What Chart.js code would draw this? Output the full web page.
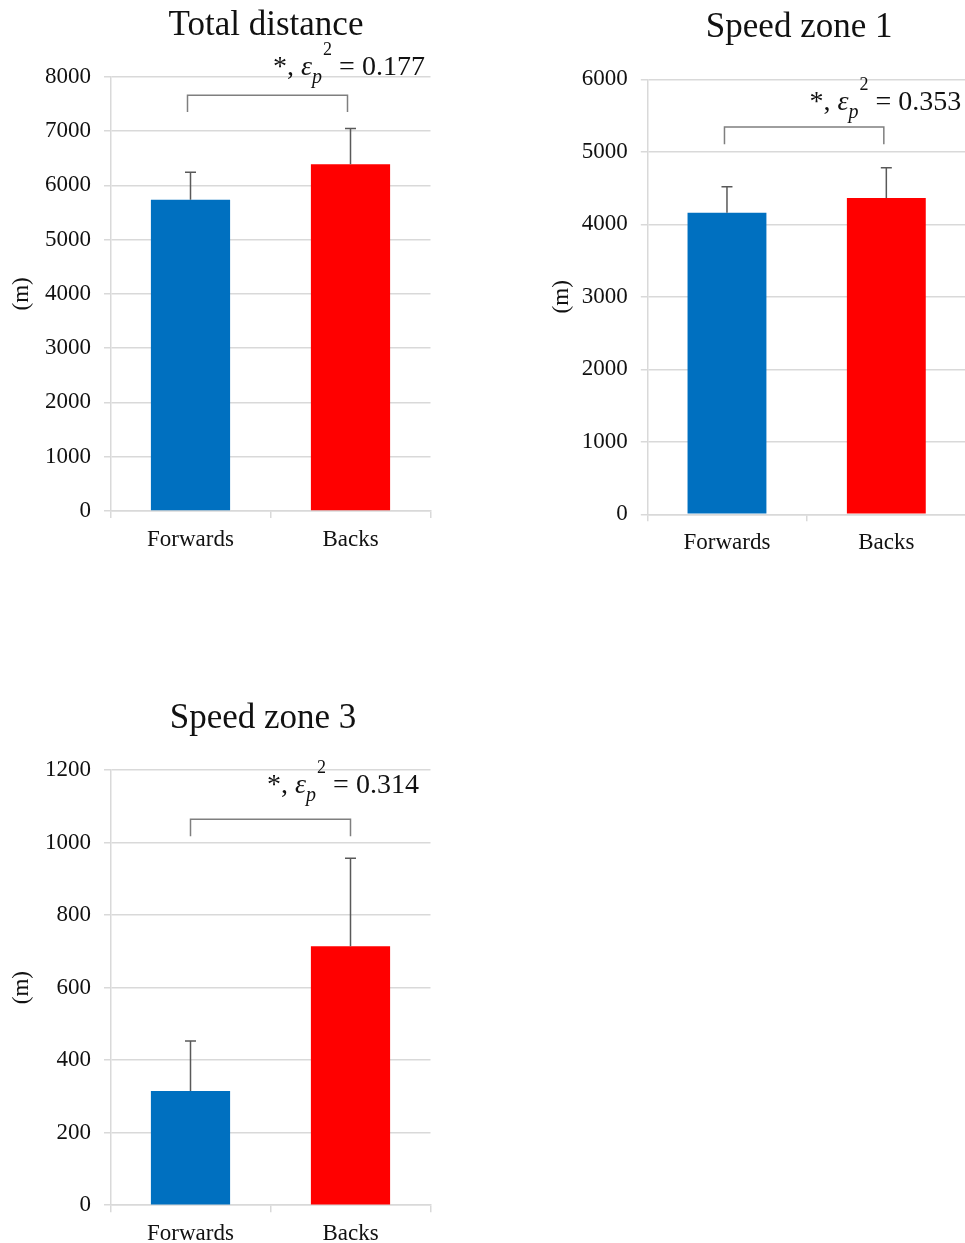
<!DOCTYPE html>
<html>
<head>
<meta charset="utf-8">
<script src="https://cdn.jsdelivr.net/npm/chart.js@4.4.1/dist/chart.umd.min.js"></script>
<style>
  html, body { margin: 0; padding: 0; background: #fff; overflow: hidden; }
  canvas { position: absolute; }
</style>
</head>
<body>
<canvas id="total" width="440" height="560" style="left:0px;top:0px"></canvas>
<canvas id="zone1" width="426" height="560" style="left:540px;top:0px"></canvas>
<canvas id="zone3" width="440" height="553" style="left:0px;top:690px"></canvas>
<script>
const categories = ["Forwards", "Backs"];
const barColors = ["#0070C0", "#FF0000"];

const totalMean = [5733, 6387];
const totalSd = [506, 657];
const totalBracket = [7657, 7350];

const zone1Mean = [4160, 4363];
const zone1Sd = [359, 418];
const zone1Bracket = [5343, 5105];

const zone3Mean = [315, 714];
const zone3Sd = [138, 243];
const zone3Bracket = [1064, 1017];

const effectSizes = ["0.177", "0.353", "0.314"];

const serif = "'Liberation Serif', 'Times New Roman', serif";
Chart.defaults.font.family = serif;

function drawStat(ctx, cx, base, value) {
    const big = "28px " + serif;
    const ital = "italic 28px " + serif;
    const sub = "italic 20px " + serif;
    const sup = "18px " + serif;
    const parts = [
        { t: "*, ", f: big, dy: 0 },
        { t: "\u03b5", f: ital, dy: 0 },
        { t: "p", f: sub, dy: 8 },
        { t: "2", f: sup, dy: -20, gap: 1 },
        { t: " = " + value, f: big, dy: 0 },
    ];
    let total = 0;
    parts.forEach((p) => {
        ctx.font = p.f;
        p.w = ctx.measureText(p.t).width + (p.gap || 0);
        total += p.w;
    });
    let x = cx - total / 2;
    ctx.fillStyle = "#111";
    ctx.textAlign = "left";
    ctx.textBaseline = "alphabetic";
    parts.forEach((p) => {
        ctx.font = p.f;
        ctx.fillText(p.t, x + (p.gap || 0), base + p.dy);
        x += p.w;
    });
}

const extras = {
    id: "extras",
    afterDatasetsDraw(chart, args, o) {
        const ctx = chart.ctx;
        const y = chart.scales.y;
        const bars = chart.getDatasetMeta(0).data;
        const area = chart.chartArea;
        ctx.save();

        // error bars (upper only)
        ctx.strokeStyle = "#595959";
        ctx.lineWidth = 1.5;
        bars.forEach((bar, i) => {
            const top = y.getPixelForValue(o.mean[i] + o.sd[i]);
            ctx.beginPath();
            ctx.moveTo(bar.x, y.getPixelForValue(o.mean[i]));
            ctx.lineTo(bar.x, top);
            ctx.moveTo(bar.x - 5.5, top);
            ctx.lineTo(bar.x + 5.5, top);
            ctx.stroke();
        });

        // significance bracket
        const yb = y.getPixelForValue(o.bracket[0]);
        const yl = y.getPixelForValue(o.bracket[1]);
        const x0 = bars[0].x + o.bracketDx;
        const x1 = bars[1].x + o.bracketDx;
        ctx.strokeStyle = "#7f7f7f";
        ctx.beginPath();
        ctx.moveTo(x0, yl);
        ctx.lineTo(x0, yb);
        ctx.lineTo(x1, yb);
        ctx.lineTo(x1, yl);
        ctx.stroke();

        drawStat(ctx, bars[1].x + o.textDx, yb - o.textGap, o.effect);

        // title
        ctx.fillStyle = "#111";
        ctx.font = "35px " + serif;
        ctx.textAlign = "center";
        ctx.textBaseline = "alphabetic";
        ctx.fillText(o.title, (area.left + area.right) / 2 + o.titleDx, area.top - 42);
        ctx.restore();
    },
};

function makeChart(id, o) {
    return new Chart(document.getElementById(id), {
        type: "bar",
        data: {
            labels: categories,
            datasets: [
                {
                    data: o.mean,
                    backgroundColor: barColors,
                    barPercentage: 0.495,
                    categoryPercentage: 1,
                },
            ],
        },
        options: {
            responsive: false,
            animation: false,
            layout: { padding: { top: o.top, right: o.right, left: 0, bottom: 0 } },
            plugins: {
                legend: { display: false },
                tooltip: { enabled: false },
                extras: o,
            },
            scales: {
                x: {
                    grid: {
                        drawOnChartArea: false,
                        color: "#d9d9d9",
                        lineWidth: 1.5,
                        tickLength: 7,
                        offset: true,
                    },
                    border: { color: "#d9d9d9", width: 1.5 },
                    ticks: { color: "#111", font: { size: 23 }, padding: 8 },
                    afterFit: (s) => {
                        s.height = o.xh;
                    },
                },
                y: {
                    min: 0,
                    max: o.max,
                    ticks: {
                        stepSize: o.step,
                        color: "#111",
                        font: { size: 23 },
                        padding: 13,
                        callback: (v) => String(v),
                    },
                    grid: { color: "#d9d9d9", lineWidth: 1.5, tickLength: 6.5 },
                    border: { color: "#d9d9d9", width: 1.5 },
                    title: {
                        display: true,
                        text: "(m)",
                        color: "#111",
                        font: { size: 23 },
                        padding: { top: 8, bottom: 0 },
                    },
                    afterFit: (s) => {
                        s.width = o.yw;
                    },
                },
            },
        },
        plugins: [extras],
    });
}

makeChart("total", {
    title: "Total distance", mean: totalMean, sd: totalSd, bracket: totalBracket, effect: effectSizes[0],
    max: 8000, step: 1000, top: 76.7, right: 9.5, yw: 110.5, xh: 49,
    bracketDx: -3, textDx: -1.5, textGap: 20, titleDx: -4.5,
});
makeChart("zone1", {
    title: "Speed zone 1", mean: zone1Mean, sd: zone1Sd, bracket: zone1Bracket, effect: effectSizes[1],
    max: 6000, step: 1000, top: 79.3, right: 0, yw: 107.3, xh: 45.7,
    bracketDx: -2.5, textDx: -1, textGap: 17, titleDx: -7.5,
});
makeChart("zone3", {
    title: "Speed zone 3", mean: zone3Mean, sd: zone3Sd, bracket: zone3Bracket, effect: effectSizes[2],
    max: 1200, step: 200, top: 80, right: 9.5, yw: 110.5, xh: 37.8,
    bracketDx: 0, textDx: -7.5, textGap: 26, titleDx: -7.5,
});
</script>
</body>
</html>
